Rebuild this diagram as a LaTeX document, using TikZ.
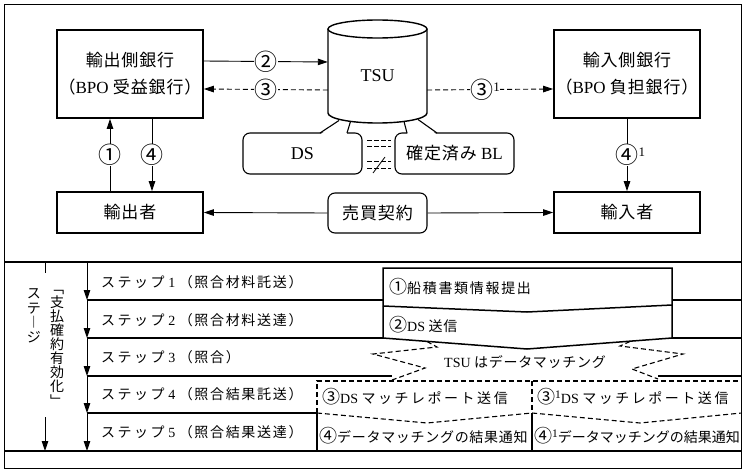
\documentclass[tikz,border=0pt]{standalone}
\usepackage{fontspec}
\setmainfont{Liberation Serif}
\newfontfamily\jp[LetterSpace=5]{Noto Sans CJK JP}
\newfontfamily\jpv{Noto Sans CJK JP}
\newfontfamily\jpc[LetterSpace=12]{Noto Sans CJK JP}
\newfontfamily\jpd[LetterSpace=18]{Noto Sans CJK JP}
\usetikzlibrary{arrows.meta}
\newcommand\J[1]{{\jp #1}}
\newcommand\JN[1]{{\jpv #1}}
\newcommand\JC[1]{{\jpc #1}}
\newcommand\JD[1]{{\jpd #1}}
\newcommand\supone[2][11]{\raisebox{#2}{\rmfamily\fontsize{#1}{#1}\selectfont 1}}
\newcommand\upfont{\fontsize{17}{27}\selectfont}
\newcommand\lowfont{\fontsize{14}{16}\selectfont}
\newcommand\cnum[1]{{\jpv\fontsize{23}{23}\selectfont #1}}
\newcommand\cnl[1]{{\jpv\fontsize{18}{18}\selectfont #1}}
\begin{document}
\begin{tikzpicture}[x=1pt,y=-1pt,
  bx/.style={draw, line width=1.7pt, minimum width=146pt, inner sep=0pt, align=center, font=\upfont},
  rbx/.style={draw, line width=1.1pt, rounded corners=7pt, inner sep=0pt, align=center, font=\upfont},
  lab/.style={fill=white, inner sep=0.5pt},
  arr/.style={line width=0.9pt, -{Triangle[length=10pt,width=6.5pt]}},
  dsh/.style={dash pattern=on 5pt off 3pt},
  rowl/.style={line width=1.1pt},
  stp/.style={anchor=west, font=\lowfont, inner sep=0pt},
]
\useasboundingbox (0,0) rectangle (744,471);
\draw[line width=1pt] (4.5,4.5) rectangle (741.5,468.5);

% ---------- upper part ----------
\node[bx, minimum height=88pt] (exb) at (130,74) {\J{輸出側銀行}\\\J{（}BPO \J{受益銀行）}};
\node[bx, minimum height=88pt] (imb) at (627,74) {\J{輸入側銀行}\\\J{（}BPO \J{負担銀行）}};
\node[bx, minimum height=41pt] (exr) at (130,212.5) {\J{輸出者}};
\node[bx, minimum height=41pt] (imr) at (627,212.5) {\J{輸入者}};
\node[rbx, minimum width=99pt, minimum height=40pt] (ct) at (377.5,213) {\J{売買契約}};

% callout boxes
\node[rbx, minimum width=119pt, minimum height=41pt, font=\fontsize{18}{18}\selectfont] (ds) at (302.5,153.5) {DS};
\node[rbx, minimum width=119pt, minimum height=41pt] (bl) at (454.5,153.5) {\J{確定済み} BL};
\fill[white] (320.6,134.2) -- (339,121) -- (351,122) -- (346.6,134.2) -- cycle;
\draw[line width=1.1pt] (320,133) -- (339,120.5) (347,133) -- (350.5,121.5);
\fill[white] (407.6,134.2) -- (404,122) -- (418,120) -- (436.4,134.2) -- cycle;
\draw[line width=1.1pt] (407,133) -- (404,121.5) (437,133) -- (418,119.5);

% TSU cylinder
\draw[line width=1.4pt, fill=white] (328,29) -- (328,113) arc[start angle=180, end angle=0, x radius=49.5, y radius=10] -- (427,29);
\draw[line width=1.4pt] (377.5,29) ellipse[x radius=49.5, y radius=9];
\node[minimum width=99pt, minimum height=80pt, inner sep=0pt, font=\fontsize{18}{18}\selectfont] (tsu) at (377.5,76) {TSU};

% = and not-equal (dashed)
\draw[line width=0.8pt, dash pattern=on 4.5pt off 2.5pt] (367,140) -- (391,140) (367,146.5) -- (391,146.5)
      (367,161.5) -- (391,161.5) (367,168) -- (391,168);
\draw[line width=0.8pt] (373,173) -- (385,157);

% connectors
\draw[arr] ([yshift=13pt]exb.east) -- node[lab]{\cnum{②}} ([yshift=14pt]tsu.west);
\draw[arr, dsh] ([yshift=-14pt]tsu.west) -- node[lab]{\cnum{③}} ([yshift=-15pt]exb.east);
\draw[arr, dsh] ([yshift=-14pt]tsu.east) -- node[lab, pos=0.46]{\cnum{③}\supone[13]{7pt}} ([yshift=-15pt]imb.west);
\draw[arr] ([xshift=-20pt]exr.north) -- node[lab]{\cnum{①}} ([xshift=-20pt]exb.south);
\draw[arr] ([xshift=22pt]exb.south) -- node[lab]{\cnum{④}} ([xshift=22pt]exr.north);
\draw[arr] (imb.south) -- node[lab]{\cnum{④}\rlap{\supone[13]{7pt}}} (imr.north);
\draw[arr] (ct.west) -- (exr.east);
\draw[arr] (ct.east) -- (imr.west);

% ---------- lower part ----------
\draw[line width=1.2pt] (4.5,262) -- (741.5,262);
\draw[line width=1.8pt] (4.5,451) -- (741.5,451);

% stage arrow and vertical labels
\coordinate (g0) at (45,262);
\coordinate (g1) at (45,273);
\coordinate (g2) at (45,417);
\coordinate (g3) at (45,451);
\draw[line width=0.9pt] (g0) -- (g1);
\draw[arr] (g2) -- (g3);
\node[font=\jpv\fontsize{14}{14.5}\selectfont, align=center, inner sep=0pt] (stg) at (34,316) {ス\\テ\\︱\\ジ};
\node[font=\jpv\fontsize{14}{14.1}\selectfont, align=center, inner sep=0pt] (stg2) at (57,348) {﹁\\支\\払\\確\\約\\有\\効\\化\\﹂};

% step arrows
\coordinate (s0) at (87,262);
\coordinate (s1) at (87,300);
\coordinate (s2) at (87,338);
\coordinate (s3) at (87,376);
\coordinate (s4) at (87,413);
\coordinate (s5) at (87,451);
\draw[arr] (s0) -- (s1);
\draw[arr] (s1) -- (s2);
\draw[arr] (s2) -- (s3);
\draw[arr] (s3) -- (s4);
\draw[arr] (s4) -- (s5);

% row lines
\draw[rowl] (s1) -- (383,300) (672,300) -- (741.5,300);
\draw[rowl] (s2) -- (383,338) (672,338) -- (741.5,338);
\draw[rowl] (s3) -- (392,376) (658,376) -- (741.5,376);
\draw[rowl] (s4) -- (317,413);

% step texts
\node[stp] (t1) at (101,282) {\JD{ステップ} 1 \JC{（照合材料託送）}};
\node[stp] (t2) at (101,320) {\JD{ステップ} 2 \JC{（照合材料送達）}};
\node[stp] (t3) at (101,357) {\JD{ステップ} 3 \JC{（照合）}};
\node[stp] (t4) at (101,394) {\JD{ステップ} 4 \JC{（照合結果託送）}};
\node[stp] (t5) at (101,432) {\JD{ステップ} 5 \JC{（照合結果送達）}};

% chevron (steps 1-2)
\draw[line width=1.5pt, fill=white] (383,268) -- (672,268) -- (672,338) -- (527,349) -- (383,338) -- cycle;
\draw[line width=1.5pt] (383,306) -- (527,312) -- (672,305);
\node[stp] (c1) at (389,287) {\cnl{①}\JC{船積書類情報提出}};
\node[stp] (c2) at (389,325) {\cnl{②}DS \J{送信}};

% data matching (step 3)
\draw[line width=1.1pt, dsh] (427,341.5) -- (437,347) -- (373,354) -- (425,368) -- (392,380);
\draw[line width=1.1pt, dsh] (630,341.5) -- (620,346) -- (683,354) -- (632,369) -- (658,379);
\node[font=\lowfont, inner sep=0pt] (tm) at (525,362) {TSU \J{はデータマッチング}};

% step 4 (dashed)
\draw[line width=1.1pt, dsh] (317,413) -- (317,381) -- (741.5,381);
\draw[line width=1.1pt, dsh] (532,381) -- (532,413);
\draw[line width=1.1pt, dsh] (317,413) -- (427,423) -- (532,413) -- (640,423) -- (741.5,413);
\node[stp] (r3) at (322,397) {\cnl{③}DS \JD{マッチレポート送信}};
\node[stp] (r3b) at (537,397) {\cnl{③}\supone[11.5]{5pt}DS \JD{マッチレポート送信}};

% step 5
\draw[line width=1.3pt] (317,413) -- (317,451) (532,413) -- (532,451);
\node[stp] (r4) at (319,436) {\cnl{④}\J{データマッチングの結果通知}};
\node[stp] (r4b) at (534,436) {\cnl{④}\supone[11.5]{5pt}\JN{データマッチングの結果通知}};
\end{tikzpicture}
\end{document}
